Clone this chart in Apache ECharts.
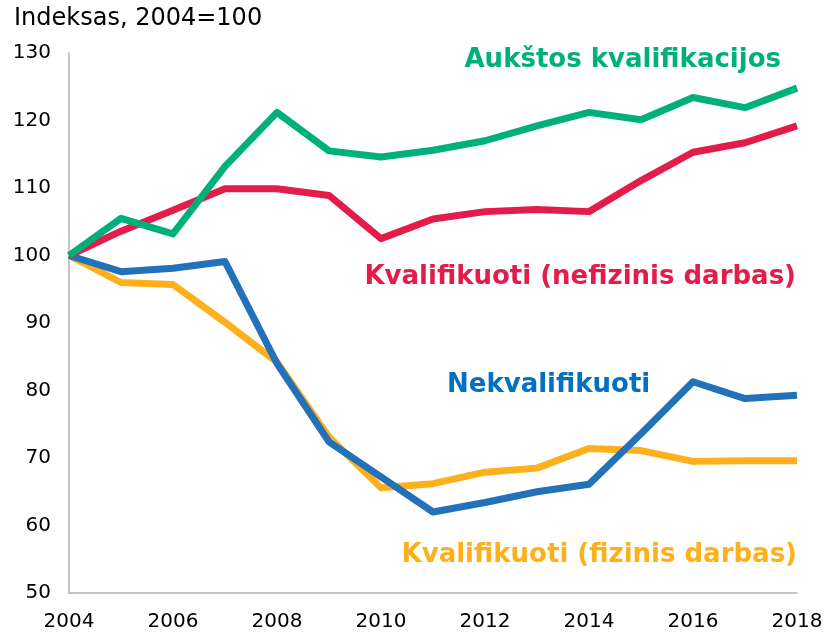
<!DOCTYPE html>
<html>
<head>
<meta charset="utf-8">
<script src="https://cdn.jsdelivr.net/npm/echarts@6/dist/echarts.min.js"></script>
<style>
html, body { margin: 0; padding: 0; background: #fff; }
#chart { width: 827px; height: 632px; }
</style>
</head>
<body>
<div id="chart"></div>
<script>
var years = ['2004', '2005', '2006', '2007', '2008', '2009', '2010', '2011', '2012', '2013', '2014', '2015', '2016', '2017', '2018'];
var aukstos = [100, 105.5, 103.2, 113.2, 121.2, 115.5, 114.6, 115.6, 117.0, 119.2, 121.2, 120.1, 123.4, 121.9, 124.8];
var nefizinis = [100, 103.6, 106.7, 109.9, 109.9, 108.9, 102.5, 105.4, 106.5, 106.8, 106.5, 111.1, 115.3, 116.7, 119.2];
var nekvalifikuoti = [100, 97.6, 98.1, 99.1, 84.0, 72.4, 67.2, 62.0, 63.4, 65.0, 66.1, 73.6, 81.3, 78.8, 79.3];
var fizinis = [100, 96.0, 95.7, 90.1, 84.2, 73.1, 65.6, 66.2, 67.9, 68.5, 71.4, 71.1, 69.5, 69.6, 69.6];
var yTicks = [50, 60, 70, 80, 90, 100, 110, 120, 130];

var font = 'DejaVu Sans, Verdana, sans-serif';
var chart = echarts.init(document.getElementById('chart'));

function line(name, data, color) {
    return {
        name: name,
        type: 'line',
        data: data,
        symbol: 'none',
        lineStyle: { color: color, width: 7, join: 'round' },
        itemStyle: { color: color }
    };
}

function label(text, x, y, color) {
    return {
        type: 'text',
        right: x,
        top: y,
        style: { text: text, fill: color, font: 'bold 26px ' + font }
    };
}

chart.setOption({
    animation: false,
    grid: { left: 69, right: 30, top: 53, bottom: 39 },
    xAxis: {
        type: 'category',
        data: years,
        boundaryGap: false,
        axisLine: { lineStyle: { color: '#b3b3b3', width: 1.5 } },
        axisTick: { show: false },
        axisLabel: {
            interval: 1,
            color: '#000',
            fontFamily: font,
            fontSize: 20,
            margin: 19
        },
        splitLine: { show: false }
    },
    yAxis: {
        type: 'value',
        min: yTicks[0],
        max: yTicks[yTicks.length - 1],
        interval: 10,
        axisLine: { show: true, lineStyle: { color: '#b3b3b3', width: 1.5 } },
        axisTick: { show: false },
        axisLabel: { color: '#000', fontFamily: font, fontSize: 20, margin: 18 },
        splitLine: { show: false }
    },
    graphic: [
        { type: 'text', left: 14, top: 7, style: { text: 'Indeksas, 2004=100', fill: '#000', font: '24px ' + font } },
        label('Aukštos kvalifikacijos', 46, 47, '#00b07a'),
        label('Kvalifikuoti (nefizinis darbas)', 31, 264, '#e31c4b'),
        { type: 'text', left: 447, top: 372, style: { text: 'Nekvalifikuoti', fill: '#0070c0', font: 'bold 26px ' + font } },
        label('Kvalifikuoti (fizinis darbas)', 30, 542, '#fdb01a')
    ],
    series: [
        line('Kvalifikuoti (fizinis darbas)', fizinis, '#fdb01c'),
        line('Nekvalifikuoti', nekvalifikuoti, '#2371b9'),
        line('Kvalifikuoti (nefizinis darbas)', nefizinis, '#e31c4b'),
        line('Aukštos kvalifikacijos', aukstos, '#00b07a')
    ]
});
</script>
</body>
</html>
